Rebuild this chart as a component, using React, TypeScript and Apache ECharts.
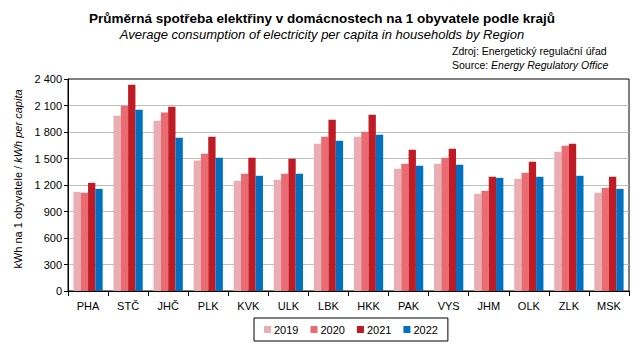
import React, { useEffect, useRef } from "react";
import * as echarts from "echarts";

const categories = ["PHA", "STČ", "JHČ", "PLK", "KVK", "ULK", "LBK", "HKK", "PAK", "VYS", "JHM", "OLK", "ZLK", "MSK"];
const years = ["2019", "2020", "2021", "2022"];
const v2019 = [1122, 1984, 1927, 1478, 1247, 1259, 1667, 1746, 1383, 1440, 1100, 1270, 1576, 1111];
const v2020 = [1111, 2097, 2022, 1553, 1327, 1327, 1746, 1803, 1440, 1508, 1134, 1338, 1644, 1168];
const v2021 = [1224, 2336, 2086, 1746, 1508, 1497, 1939, 1995, 1599, 1610, 1293, 1463, 1667, 1293];
const v2022 = [1156, 2052, 1735, 1508, 1304, 1327, 1701, 1769, 1417, 1429, 1281, 1293, 1304, 1156];
const colors = ["#E8AEB3", "#EA6B72", "#BE1B24", "#0070C0"];
const yTicks = { min: 0, max: 2400, interval: 300 };

const FONT = "'Liberation Sans', Arial, sans-serif";

function fmt(v: number): string {
  if (v >= 1000) {
    const th = Math.floor(v / 1000);
    const rest = String(v % 1000).padStart(3, "0");
    return th + " " + rest;
  }
  return String(v);
}

export default function App() {
  const ref = useRef<HTMLDivElement>(null);
  useEffect(() => {
    if (!ref.current) return;
    const chart = echarts.init(ref.current, null, { renderer: "svg" });
    const data = [v2019, v2020, v2021, v2022];
    const nLines = (yTicks.max - yTicks.min) / yTicks.interval + 1;
    const splitColors = Array.from({ length: nLines }, (_, i) => (i === nLines - 1 ? "rgba(0,0,0,0)" : "#BFBFBF"));
    chart.setOption({
      animation: false,
      textStyle: { fontFamily: FONT },
      graphic: [
        {
          type: "text",
          x: 322,
          y: 18,
          style: {
            text: "Průměrná spotřeba elektřiny v domácnostech na 1 obyvatele podle krajů",
            font: "bold 13.5px " + FONT,
            fill: "#000",
            align: "center",
            verticalAlign: "middle",
          },
        },
        {
          type: "text",
          x: 322,
          y: 34,
          style: {
            text: "Average consumption of electricity per capita in households by Region",
            font: "italic 13px " + FONT,
            fill: "#000",
            align: "center",
            verticalAlign: "middle",
          },
        },
        {
          type: "text",
          x: 452,
          y: 51,
          style: {
            text: "Zdroj: Energetický regulační úřad",
            font: "10.5px " + FONT,
            fill: "#000",
            align: "left",
            verticalAlign: "middle",
          },
        },
        {
          type: "text",
          x: 452,
          y: 65,
          style: {
            text: "{a|Source: }{b|Energy Regulatory Office}",
            font: "10.5px " + FONT,
            fill: "#000",
            align: "left",
            verticalAlign: "middle",
            rich: {
              a: { font: "10.5px " + FONT, fill: "#000" },
              b: { font: "italic 10.5px " + FONT, fill: "#000" },
            },
          },
        },
        {
          type: "text",
          x: 18,
          y: 179,
          rotation: Math.PI / 2,
          style: {
            text: "{a|kWh na 1 obyvatele / }{b|kWh per capita}",
            font: "11px " + FONT,
            fill: "#000",
            align: "center",
            verticalAlign: "middle",
            rich: {
              a: { font: "11px " + FONT, fill: "#000" },
              b: { font: "italic 11px " + FONT, fill: "#000" },
            },
          },
        },
      ],
      grid: {
        left: 68,
        right: 14,
        top: 79,
        bottom: 58,
        show: true,
        borderColor: "#000",
        borderWidth: 1,
        backgroundColor: "transparent",
        containLabel: false,
      },
      legend: {
        data: years,
        left: 254,
        top: 318,
        orient: "horizontal",
        icon: "rect",
        itemWidth: 7,
        itemHeight: 7,
        itemGap: 12,
        padding: [6, 10, 6, 10],
        borderColor: "#000",
        borderWidth: 1,
        textStyle: { fontSize: 11, color: "#000", fontFamily: FONT, padding: [0, 0, 0, -2] },
      },
      xAxis: {
        type: "category",
        data: categories,
        boundaryGap: true,
        axisLine: { show: true, lineStyle: { color: "#000", width: 1 } },
        axisTick: { show: true, interval: 0, length: 5, lineStyle: { color: "#000" } },
        axisLabel: { interval: 0, fontSize: 11, color: "#000", margin: 9, fontFamily: FONT },
        splitLine: { show: false },
      },
      yAxis: {
        type: "value",
        min: yTicks.min,
        max: yTicks.max,
        interval: yTicks.interval,
        axisLine: { show: true, lineStyle: { color: "#000", width: 1 } },
        axisTick: { show: true, length: 4, lineStyle: { color: "#000" } },
        axisLabel: { fontSize: 11, color: "#000", margin: 6, formatter: (v: number) => fmt(v), fontFamily: FONT },
        splitLine: { show: true, lineStyle: { color: splitColors, width: 1 } },
      },
      series: years.map((y, i) => ({
        name: y,
        type: "bar",
        data: data[i],
        barGap: "0%",
        barCategoryGap: "27%",
        itemStyle: { color: colors[i] },
      })),
    });
    return () => chart.dispose();
  }, []);
  return <div ref={ref} style={{ width: 643, height: 349, position: "absolute", left: 0, top: 0 }} />;
}
